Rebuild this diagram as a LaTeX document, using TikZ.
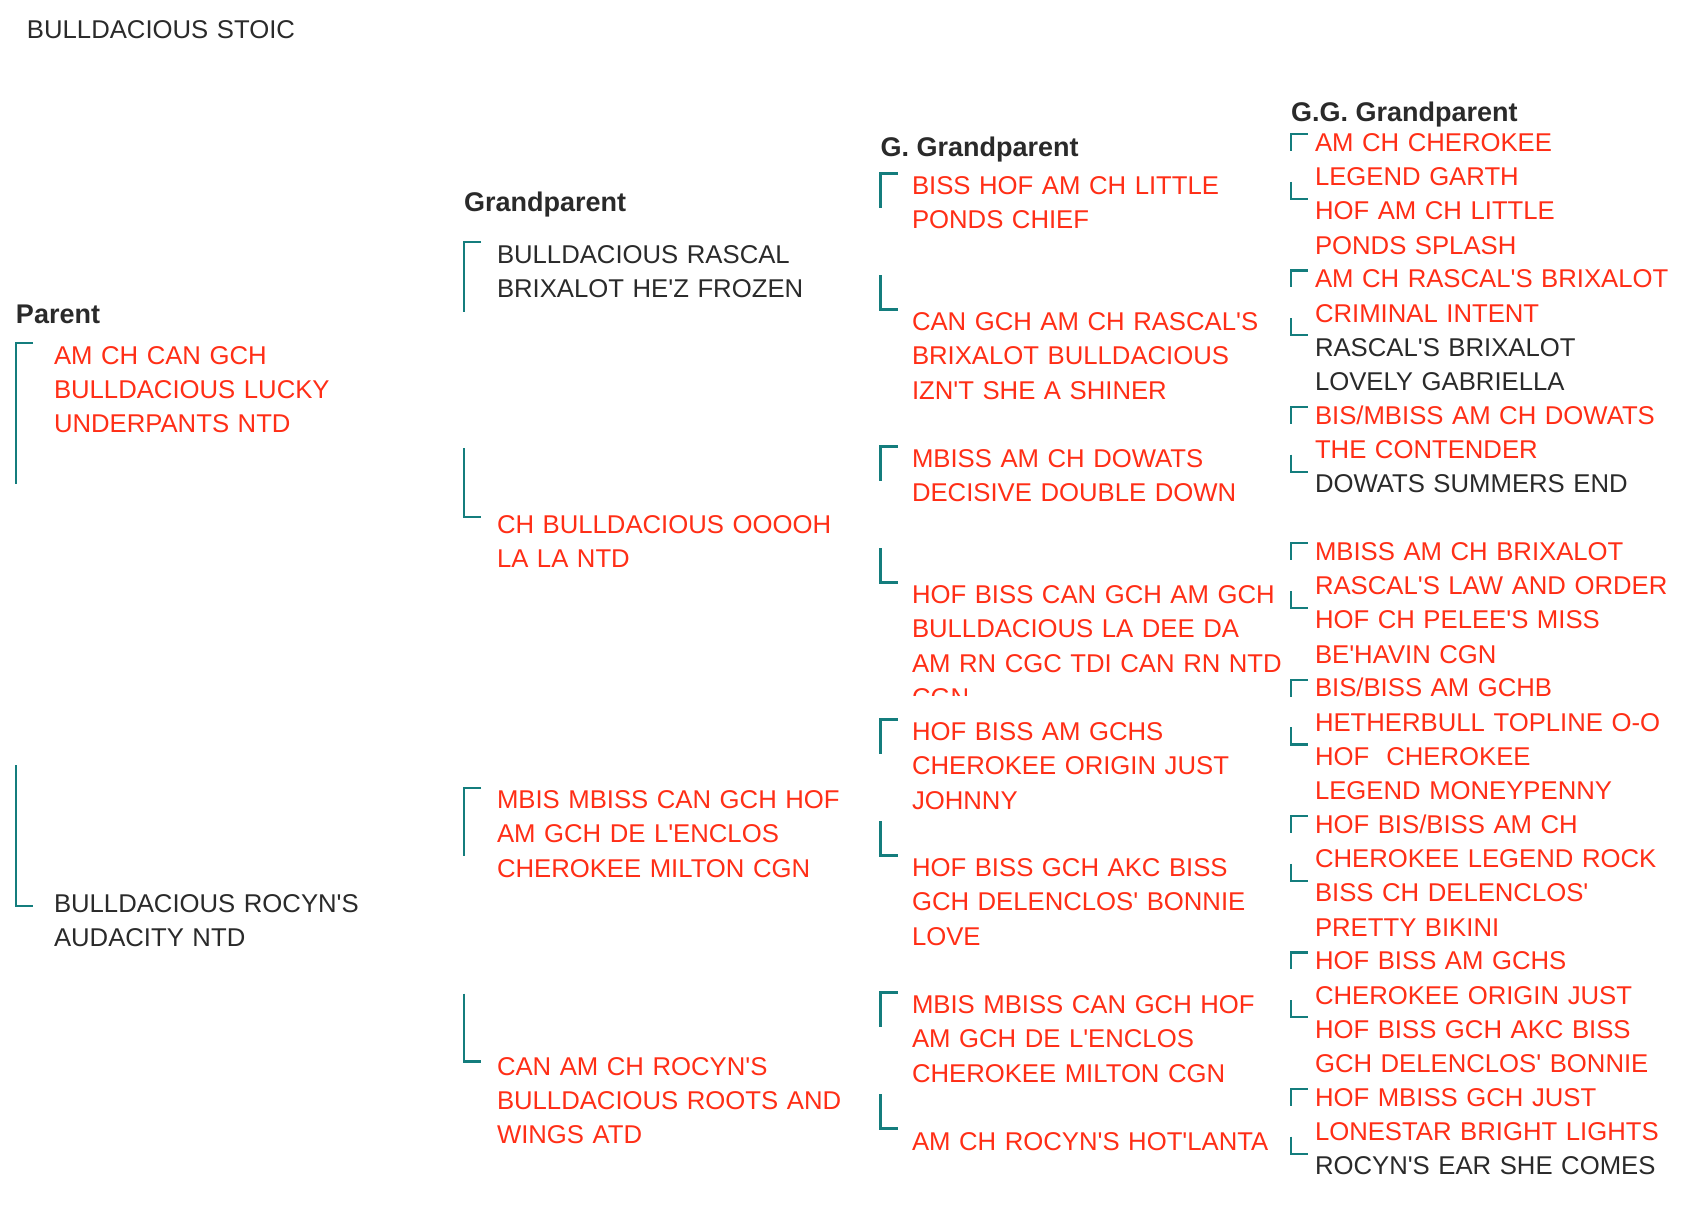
\documentclass[tikz,border=0pt]{standalone}
\usepackage{fontspec}
\setmainfont{Liberation Sans}
\newfontfamily\lsans{Liberation Sans}
\definecolor{tealb}{RGB}{20,125,125}
\definecolor{redt}{RGB}{255,46,22}
\definecolor{darkt}{RGB}{42,42,42}
\newcommand{\bktop}[3]{\draw[brk] ({#1+17},#2) -- (#1,#2) -- (#1,#3);}
\newcommand{\bkbot}[3]{\draw[brk] (#1,#2) -- (#1,#3) -- ({#1+17},#3);}
\tikzset{
  lbl/.style={anchor=base west, inner sep=0pt, outer sep=0pt, text width=380pt, align=left,
    font=\lsans\fontsize{25.7}{34.4}\selectfont, text=redt},
  blk/.style={lbl, text=darkt},
  hdr/.style={anchor=base west, inner sep=0pt, outer sep=0pt,
    font=\lsans\fontsize{27}{32}\selectfont\bfseries, text=darkt},
  brk/.style={draw=tealb, line width=2.2pt, line join=miter}
}
\begin{document}
\begin{tikzpicture}[x=1pt,y=-1pt]
\path[use as bounding box, fill=white] (0,0) rectangle (1694,1212);

% title
\node[blk] (title) at (27,39) {BULLDACIOUS STOIC};

% headers
\node[hdr] (hp) at (16,323) {Parent};
\node[hdr] (hg) at (464,211.5) {Grandparent};
\node[hdr] (hgg) at (880.5,157) {G. Grandparent};
\node[hdr] (hggg) at (1291,122) {G.G. Grandparent};

% parents
\bktop{16}{343}{484}
\node[lbl] (p1) at (54,364) {AM CH CAN GCH\\BULLDACIOUS LUCKY\\UNDERPANTS NTD};
\bkbot{16}{765}{906}
\node[blk] (p2) at (54,912) {BULLDACIOUS ROCYN'S\\AUDACITY NTD};

% grandparents
\bktop{464}{242}{311.5}
\node[blk] (gp1) at (497,263.3) {BULLDACIOUS RASCAL\\BRIXALOT HE'Z FROZEN};
\bkbot{464}{448.3}{517.3}
\node[lbl] (gp2) at (497,533.3) {CH BULLDACIOUS OOOOH\\LA LA NTD};
\bktop{464}{788}{856}
\node[lbl] (gp3) at (497,808.5) {MBIS MBISS CAN GCH HOF\\AM GCH DE L'ENCLOS\\CHEROKEE MILTON CGN};
\bkbot{464}{993.5}{1061.5}
\node[lbl] (gp4) at (497,1075) {CAN AM CH ROCYN'S\\BULLDACIOUS ROOTS AND\\WINGS ATD};

% great grandparents
\bktop{880.5}{173.5}{208}
\node[lbl] (ggp1) at (912,194.5) {BISS HOF AM CH LITTLE\\PONDS CHIEF};
\bkbot{880.5}{275}{309.5}
\node[lbl] (ggp2) at (912,330.5) {CAN GCH AM CH RASCAL'S\\BRIXALOT BULLDACIOUS\\IZN'T SHE A SHINER};
\bktop{880.5}{446.5}{481}
\node[lbl] (ggp3) at (912,467.5) {MBISS AM CH DOWATS\\DECISIVE DOUBLE DOWN};
\bkbot{880.5}{548}{582.5}
\begin{scope}
\clip (900,560) rectangle (1285,695);
\node[lbl] (ggp4) at (912,603.5) {HOF BISS CAN GCH AM GCH\\BULLDACIOUS LA DEE DA\\AM RN CGC TDI CAN RN NTD\\CGN};
\end{scope}
\bktop{880.5}{719.5}{754}
\node[lbl] (ggp5) at (912,740.5) {HOF BISS AM GCHS\\CHEROKEE ORIGIN JUST\\JOHNNY};
\bkbot{880.5}{821}{855.5}
\node[lbl] (ggp6) at (912,876.5) {HOF BISS GCH AKC BISS\\GCH DELENCLOS' BONNIE\\LOVE};
\bktop{880.5}{992.5}{1027}
\node[lbl] (ggp7) at (912,1013.5) {MBIS MBISS CAN GCH HOF\\AM GCH DE L'ENCLOS\\CHEROKEE MILTON CGN};
\bkbot{880.5}{1094}{1128.5}
\node[lbl] (ggp8) at (912,1150) {AM CH ROCYN'S HOT'LANTA};

% great great grandparents
\bktop{1290.7}{134}{151}
\node[lbl] (g1) at (1315,151.2) {AM CH CHEROKEE\\LEGEND GARTH};
\bkbot{1290.7}{181.8}{198.8}
\node[lbl] (g2) at (1315,219.6) {HOF AM CH LITTLE\\PONDS SPLASH};
\bktop{1290.7}{270.4}{287.4}
\node[lbl] (g3) at (1315,287.6) {AM CH RASCAL'S BRIXALOT\\CRIMINAL INTENT};
\bkbot{1290.7}{318.2}{335.2}
\node[blk] (g4) at (1315,356) {RASCAL'S BRIXALOT\\LOVELY GABRIELLA};
\bktop{1290.7}{406.8}{423.8}
\node[lbl] (g5) at (1315,424) {BIS/MBISS AM CH DOWATS\\THE CONTENDER};
\bkbot{1290.7}{454.6}{471.6}
\node[blk] (g6) at (1315,492.4) {DOWATS SUMMERS END};
\bktop{1290.7}{543.2}{560.2}
\node[lbl] (g7) at (1315,560.4) {MBISS AM CH BRIXALOT\\RASCAL'S LAW AND ORDER};
\bkbot{1290.7}{591}{608}
\node[lbl] (g8) at (1315,628.8) {HOF CH PELEE'S MISS\\BE'HAVIN CGN};
\bktop{1290.7}{679.6}{696.6}
\node[lbl] (g9) at (1315,696.8) {BIS/BISS AM GCHB\\HETHERBULL TOPLINE O-O};
\bkbot{1290.7}{727.4}{744.4}
\node[lbl] (g10) at (1315,765.2) {HOF\ \ CHEROKEE\\LEGEND MONEYPENNY};
\bktop{1290.7}{816}{833}
\node[lbl] (g11) at (1315,833.2) {HOF BIS/BISS AM CH\\CHEROKEE LEGEND ROCK};
\bkbot{1290.7}{863.8}{880.8}
\node[lbl] (g12) at (1315,901.6) {BISS CH DELENCLOS'\\PRETTY BIKINI};
\bktop{1290.7}{952.4}{969.4}
\node[lbl] (g13) at (1315,969.6) {HOF BISS AM GCHS\\CHEROKEE ORIGIN JUST};
\bkbot{1290.7}{1000.2}{1017.2}
\node[lbl] (g14) at (1315,1038) {HOF BISS GCH AKC BISS\\GCH DELENCLOS' BONNIE};
\bktop{1290.7}{1088.8}{1105.8}
\node[lbl] (g15) at (1315,1106) {HOF MBISS GCH JUST\\LONESTAR BRIGHT LIGHTS};
\bkbot{1290.7}{1136.6}{1153.6}
\node[blk] (g16) at (1315,1174.4) {ROCYN'S EAR SHE COMES};
\end{tikzpicture}
\end{document}
